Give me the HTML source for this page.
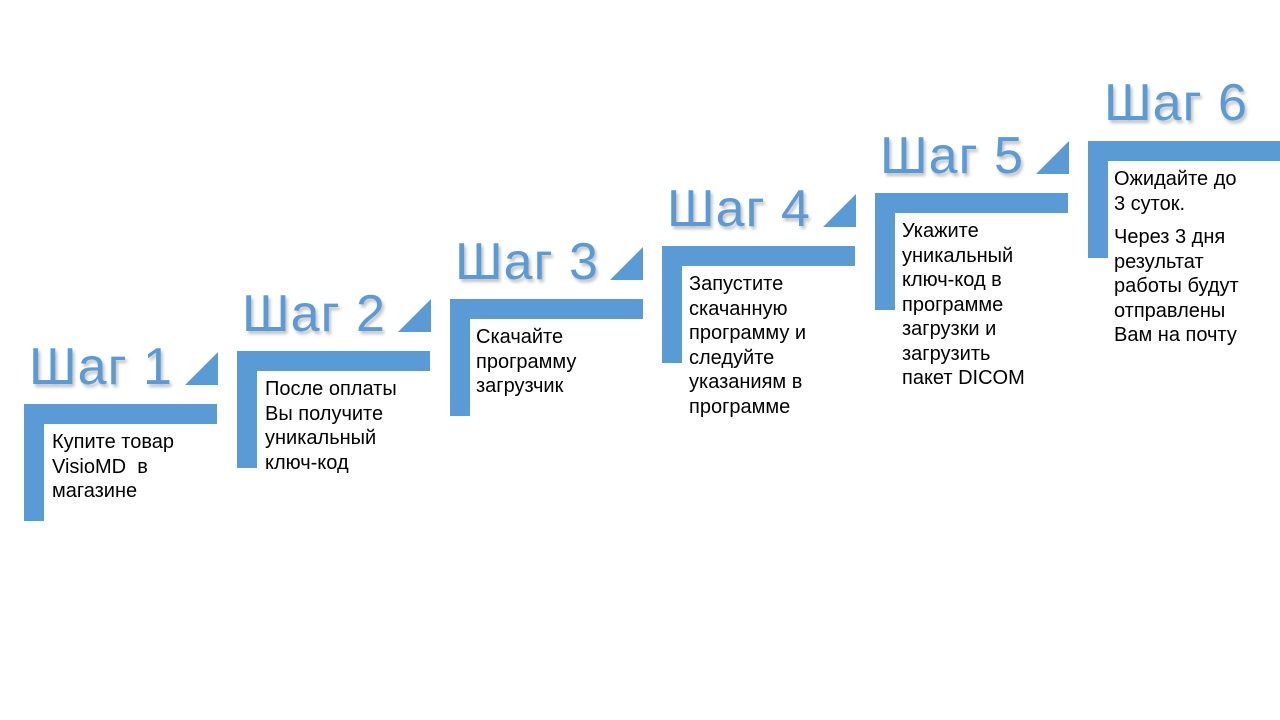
<!DOCTYPE html>
<html><head><meta charset="utf-8"><style>
body{margin:0;width:1280px;height:720px;background:#fff;position:relative;overflow:hidden;font-family:"Liberation Sans",Arial,sans-serif}
.h{position:absolute;height:20px;width:193px;background:#5b9bd5}
.v{position:absolute;width:20px;height:117px;background:#5b9bd5}
.tri{position:absolute;width:0;height:0;border-left:33px solid transparent;border-bottom:33px solid #5b9bd5}
.t{position:absolute;font-size:52px;color:#5b9bd5;line-height:1;white-space:nowrap;text-shadow:2px 3px 3px rgba(0,0,0,.25);letter-spacing:1px}
.b{position:absolute;font-size:20px;line-height:24.5px;color:#000;white-space:nowrap}
</style></head><body>
<div class="h" style="left:24px;top:404px"></div><div class="v" style="left:24px;top:404px"></div><div class="tri" style="left:185px;top:352px"></div>
<div class="t" style="left:29px;top:341px">Шаг 1</div>
<div class="b" style="left:52px;top:430px">Купите товар<br>VisioMD&nbsp; в<br>магазине</div>

<div class="h" style="left:237px;top:351px"></div><div class="v" style="left:237px;top:351px"></div><div class="tri" style="left:398px;top:299px"></div>
<div class="t" style="left:242px;top:288px">Шаг 2</div>
<div class="b" style="left:265px;top:377px">После оплаты<br>Вы получите<br>уникальный<br>ключ-код</div>

<div class="h" style="left:450px;top:299px"></div><div class="v" style="left:450px;top:299px"></div><div class="tri" style="left:610px;top:247px"></div>
<div class="t" style="left:455px;top:236px">Шаг 3</div>
<div class="b" style="left:476px;top:325px">Скачайте<br>программу<br>загрузчик</div>

<div class="h" style="left:662px;top:246px"></div><div class="v" style="left:662px;top:246px"></div><div class="tri" style="left:823px;top:194px"></div>
<div class="t" style="left:667px;top:183px">Шаг 4</div>
<div class="b" style="left:689px;top:272px">Запустите<br>скачанную<br>программу и<br>следуйте<br>указаниям в<br>программе</div>

<div class="h" style="left:875px;top:193px"></div><div class="v" style="left:875px;top:193px"></div><div class="tri" style="left:1036px;top:141px"></div>
<div class="t" style="left:880px;top:130px">Шаг 5</div>
<div class="b" style="left:902px;top:219px">Укажите<br>уникальный<br>ключ-код в<br>программе<br>загрузки и<br>загрузить<br>пакет DICOM</div>

<div class="h" style="left:1088px;top:141px;width:192px"></div><div class="v" style="left:1088px;top:141px"></div>
<div class="t" style="left:1104px;top:77px">Шаг 6</div>
<div class="b" style="left:1114px;top:167px">Ожидайте до<br>3 суток.<div style="height:9px"></div>Через 3 дня<br>результат<br>работы будут<br>отправлены<br>Вам на почту</div>
</body></html>
